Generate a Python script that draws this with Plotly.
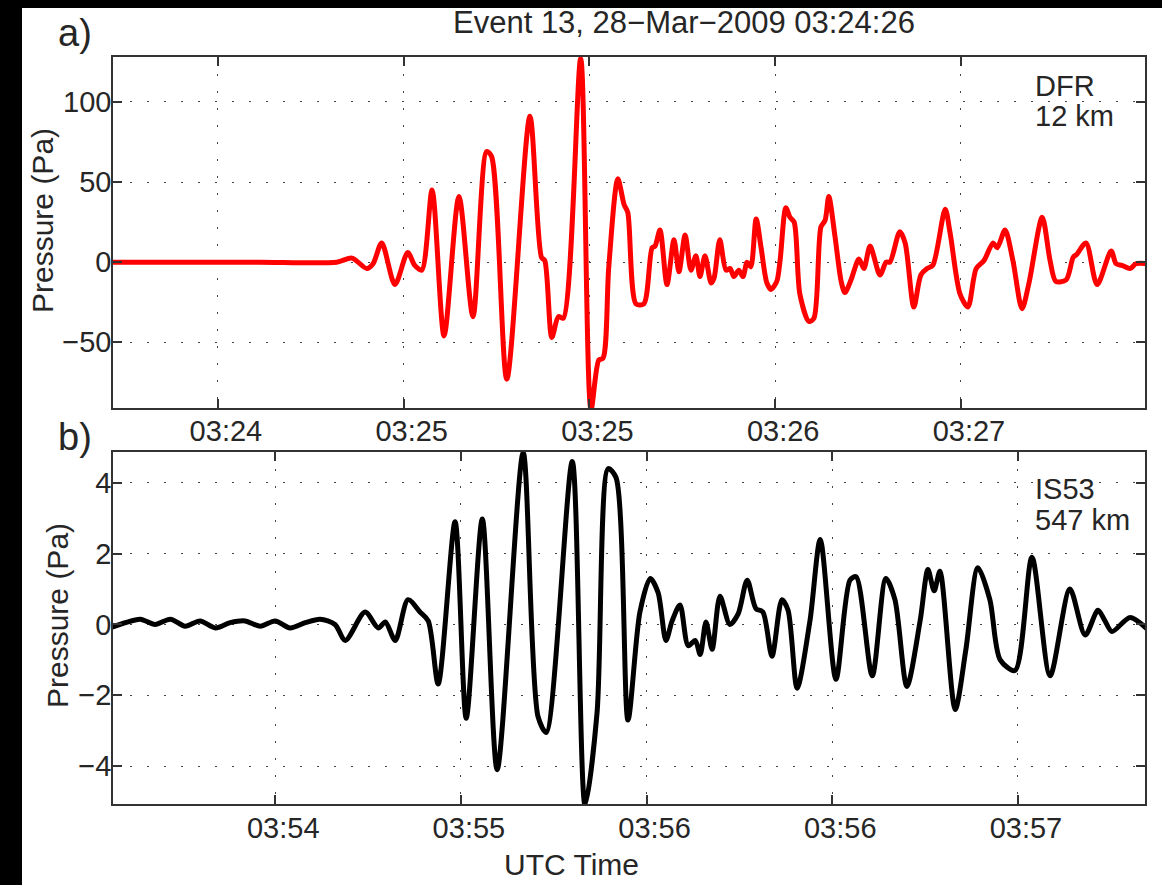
import pandas as pd
import plotly.graph_objects as go

# DFR station, 12 km: seconds after 03:24:00 UTC and pressure (Pa)
dfr_t = [-6.0, 10.0, 30.0, 48.8, 52.5, 56.1, 57.6, 59.7, 62.9, 66.0, 67.7, 69.4,
         71.9, 74.8, 78.4, 81.8, 85.1, 86.3, 90.0, 95.6, 98.4, 99.2, 100.9, 102.5,
         103.7, 107.9, 110.4, 112.3, 113.3, 114.7, 116.9, 118.4, 119.3, 121.3, 123.2,
         125.2, 125.9, 127.1, 128.8, 130.5, 131.7, 133.2, 134.6, 135.8, 136.8, 138.0,
         139.5, 140.2, 141.6, 143.1, 144.1, 145.0, 146.2, 147.2, 148.2, 149.1, 150.4,
         151.6, 153.0, 154.0, 155.4, 156.2, 157.6, 158.6, 159.6, 161.0, 163.2, 164.4,
         166.1, 167.1, 168.0, 169.5, 171.0, 171.9, 173.4, 175.3, 176.5, 178.0, 180.4,
         181.9, 182.8, 185.2, 186.5, 188.6, 190.3, 191.8, 193.2, 196.2, 197.4, 199.8,
         201.7, 203.7, 205.6, 207.8, 208.8, 210.7, 212.6, 214.8, 216.5, 219.7, 221.6,
         223.0, 225.5, 227.2, 228.1, 230.3, 233.0, 236.4, 237.6, 239.0, 241.0, 242.4,
         245.5]
dfr_p = [0, 0, 0, 0, 2.5, -4, -1, 12, -14, 6, -2, -5,
         45, -46, 41, -34, 69, 66, -73, 91, 3, 1, -47, -34,
         -35, 127, -92, -61, -60, -3, 52, 36, 31, -26, -26,
         9, 10, 20, -14, 14, -6, 17, -5, 4, -9, 4,
         -13, -10, 14, -5, -4, -9, -5, -9, 0, -3, 27,
         9, -13, -17, -12, 1, 34, 28, 25, -20, -37, -35,
         22, 26, 41, 16, -12, -19, -11, 2, -4, 10, -8,
         0, 0, 19, 12, -28, -8, -4, -2, 33, 18, -20,
         -28, -4, 1, 12, 9, 20, 1, -29, -13, 28, 1,
         -12, -11, 3, 5, 12, -14, 7, -1, -2, -4, -1,
         -1]

# IS53 array, 547 km: seconds after 03:54:00 UTC and pressure (Pa)
is53_t = [-10.0, -6.3, -2.7, 0.9, 4.6, 8.2, 11.8, 15.5, 19.1, 22.7, 26.4, 30.0,
          33.6, 37.3, 40.9, 44.5, 47.0, 51.8, 55.0, 56.7, 59.1, 62.2, 65.1, 67.1,
          69.5, 73.6, 76.3, 80.2, 83.8, 90.1, 93.7, 95.7, 102.0, 105.1, 108.0, 110.7,
          112.6, 115.5, 118.4, 120.9, 122.8, 124.7, 126.2, 128.1, 130.1, 131.8, 133.0,
          134.4, 135.9, 137.8, 140.2, 142.2, 144.4, 146.5, 148.2, 150.4, 152.8, 154.3,
          156.5, 159.6, 162.1, 165.9, 169.3, 170.8, 174.7, 178.0, 180.2, 183.1, 186.3,
          188.2, 189.7, 191.1, 194.8, 197.4, 200.3, 203.2, 205.7, 209.3, 213.4, 217.8,
          222.6, 226.3, 229.4, 231.1, 232.8, 237.2, 241.5]
is53_p = [-0.1, 0.05, 0.15, 0.0, 0.15, -0.05, 0.1, -0.1, 0.05, 0.1, -0.05, 0.1,
          -0.1, 0.05, 0.15, 0.0, -0.45, 0.35, -0.1, 0.07, -0.45, 0.7, 0.35, 0.1,
          -1.68, 2.9, -2.65, 2.98, -4.1, 4.85, -2.6, -3.05, 4.6, -5.1, -2.5, 4.4,
          4.15, -2.7, 0.35, 1.3, 0.9, -0.45, 0.1, 0.55, -0.6, -0.45, -0.85,
          0.07, -0.7, 0.8, 0.0, 0.3, 1.25, 0.45, 0.35, -0.9, 0.7, 0.4,
          -1.8, 0.1, 2.4, -1.55, 1.25, 1.35, -1.45, 1.3, 0.7, -1.75, 0.1,
          1.55, 0.95, 1.5, -2.4, -0.7, 1.6, 0.7, -1.0, -1.3, 1.9, -1.45,
          1.0, -0.3, 0.4, 0.1, -0.2, 0.2, -0.15]

dfr_ticks = ["2009-03-28 03:24:20", "2009-03-28 03:25:05", "2009-03-28 03:25:50",
             "2009-03-28 03:26:35", "2009-03-28 03:27:20"]
is53_ticks = ["2009-03-28 03:54:30", "2009-03-28 03:55:15", "2009-03-28 03:56:00",
              "2009-03-28 03:56:45", "2009-03-28 03:57:30"]
dfr_yticks = [-50, 0, 50, 100]
is53_yticks = [-4, -2, 0, 2, 4]

dfr_x = pd.Timestamp("2009-03-28 03:24:00") + pd.to_timedelta(dfr_t, unit="s")
is53_x = pd.Timestamp("2009-03-28 03:54:00") + pd.to_timedelta(is53_t, unit="s")

W, H = 1162, 885
FONT = "Liberation Sans, Arial, Helvetica, sans-serif"
INK = "#262626"

fig = go.Figure()
fig.add_trace(go.Scatter(x=dfr_x, y=dfr_p, mode="lines",
                         line=dict(color="#ff0000", width=5, shape="spline", smoothing=0.8),
                         xaxis="x", yaxis="y", showlegend=False))
fig.add_trace(go.Scatter(x=is53_x, y=is53_p, mode="lines",
                         line=dict(color="#000000", width=5, shape="spline", smoothing=0.8),
                         xaxis="x2", yaxis="y2", showlegend=False))

xdom = [113 / W, 1145 / W]


def ydom(top, bottom):
    return [1 - bottom / H, 1 - top / H]


common = dict(showline=True, linecolor="#333333", linewidth=1.5, mirror="ticks",
              ticks="inside", ticklen=9, tickwidth=1.5, tickcolor="#333333",
              showgrid=True, gridcolor="#444444", gridwidth=1.2, griddash="2px,15px",
              zeroline=False, tickfont=dict(family=FONT, size=29, color=INK))

# time labels sit slightly right of their ticks
TIMEFMT = "\u00a0\u00a0%H:%M"

fig.update_layout(
    width=W, height=H,
    margin=dict(l=0, r=0, t=0, b=0),
    paper_bgcolor="#000000",
    plot_bgcolor="#ffffff",
    xaxis=dict(domain=xdom, anchor="y", type="date", tickformat=TIMEFMT,
               tickvals=dfr_ticks,
               range=["2009-03-28 03:23:54.6", "2009-03-28 03:28:04.6"],
               ticklabelstandoff=-4, **common),
    yaxis=dict(domain=ydom(57, 408), anchor="x", range=[-91, 128],
               tickvals=dfr_yticks, ticklabelstandoff=-6, **common),
    xaxis2=dict(domain=xdom, anchor="y2", type="date", tickformat=TIMEFMT,
                tickvals=is53_ticks,
                range=["2009-03-28 03:53:50.7", "2009-03-28 03:58:00.8"],
                ticklabelstandoff=-3, **common),
    yaxis2=dict(domain=ydom(452, 804), anchor="x2", range=[-5.07, 4.87],
                tickvals=is53_yticks, ticklabelstandoff=-6, **common),
    shapes=[dict(type="rect", xref="paper", yref="paper", x0=22 / W, x1=1, y0=0,
                 y1=1 - 8 / H, fillcolor="#ffffff", line=dict(width=0), layer="below")],
)


def text(s, x, y, size=29, xanchor="center", angle=0, yanchor="middle"):
    fig.add_annotation(text=s, x=x / W, y=1 - y / H, xref="paper", yref="paper",
                       showarrow=False, xanchor=xanchor, yanchor=yanchor,
                       textangle=angle, font=dict(family=FONT, size=size, color=INK))


text("Event 13, 28\u2212Mar\u22122009 03:24:26", 684, 23, size=31)
text("a)", 56, 33, size=38, xanchor="left")
text("b)", 56, 437, size=38, xanchor="left")
text("DFR", 1033, 86, xanchor="left")
text("12 km", 1033, 116, xanchor="left")
text("IS53", 1033, 489, xanchor="left")
text("547 km", 1033, 520, xanchor="left")
text("Pressure (Pa)", 42, 221, size=30, angle=-90)
text("Pressure (Pa)", 57, 616, size=30, angle=-90)
text("UTC Time", 571, 864, size=30)

fig.write_html("out.html")
